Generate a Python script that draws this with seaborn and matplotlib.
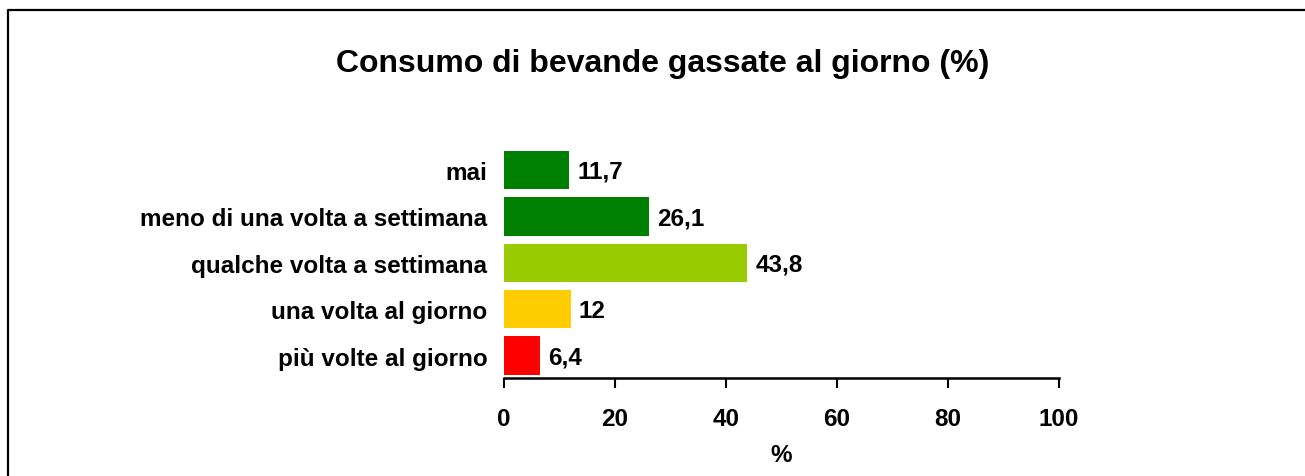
import matplotlib
matplotlib.use("Agg")
import matplotlib.pyplot as plt
import seaborn as sns
import pandas as pd
from matplotlib.lines import Line2D

categories = ["mai", "meno di una volta a settimana", "qualche volta a settimana",
              "una volta al giorno", "più volte al giorno"]
values = [11.7, 26.1, 43.8, 12, 6.4]
value_labels = ["11,7", "26,1", "43,8", "12", "6,4"]
colors = ["#008000", "#008000", "#99CC00", "#FFCC00", "#FF0000"]
x_ticks = [0, 20, 40, 60, 80, 100]

sns.set_style("white")
plt.rcParams['font.family'] = ['Liberation Sans', 'DejaVu Sans']
plt.rcParams['text.color'] = 'black'
plt.rcParams['axes.labelcolor'] = 'black'
plt.rcParams['xtick.color'] = 'black'
plt.rcParams['ytick.color'] = 'black'

df = pd.DataFrame({"cat": categories, "val": values})

fig = plt.figure(figsize=(13.05, 4.77), dpi=100)
ax = fig.add_axes([504/1305, (477-379)/477, (1059-504)/1305, (379-147.8)/477])

sns.barplot(data=df, x="val", y="cat", hue="cat", palette=colors, legend=False,
            width=0.83, ax=ax, saturation=1, orient="h", linewidth=0)

FS = 17.5
ax.set_xlim(0, 100)
ax.set_ylim(4.485, -0.5)
ax.set_xticks(x_ticks)
ax.set_xticklabels([str(t) for t in x_ticks], fontsize=FS, fontweight="bold")
ax.set_yticks(range(len(categories)))
ax.set_yticklabels(categories, fontsize=FS, fontweight="bold")
ax.tick_params(axis="y", left=False, length=0, pad=12)
ax.tick_params(axis="x", bottom=True, length=7, width=1.5, direction="out", pad=14)
ax.set_xlabel("%", fontsize=FS, fontweight="bold", labelpad=9)
ax.set_ylabel("")
for s in ["top", "right", "left"]:
    ax.spines[s].set_visible(False)
ax.spines["bottom"].set_linewidth(1.8)
ax.spines["bottom"].set_color("black")

for i, (v, lab) in enumerate(zip(values, value_labels)):
    ax.annotate(lab, xy=(v, i), xytext=(6, -1), textcoords="offset points",
                va="center", ha="left", fontsize=FS, fontweight="bold")

fig.text(663/1305, 1 - 64/477, "Consumo di bevande gassate al giorno (%)",
         ha="center", va="center", fontsize=23, fontweight="bold")

fig.add_artist(Line2D([8/1305, 8/1305, 1.0], [0, 1 - 11/477, 1 - 11/477],
                      transform=fig.transFigure, color="black", lw=1.6))

fig.savefig("out.png", dpi=100)
